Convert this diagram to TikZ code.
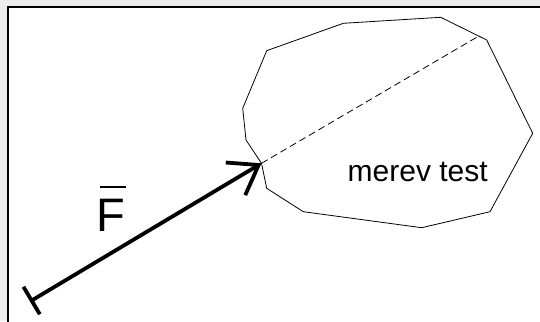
\documentclass[tikz,border=0pt]{standalone}
\usepackage{fontspec}
\setmainfont{Liberation Sans}
\usetikzlibrary{arrows.meta}
\begin{document}
\begin{tikzpicture}[x=1pt,y=-1pt,
  body/.style={draw=black,line width=0.8pt,line join=round},
  axisline/.style={draw=black,line width=0.8pt,dash pattern=on 7pt off 4pt},
  force/.style={draw=black,line width=3.8pt,
    {Bar[width=32pt,line width=3.8pt]}-{Straight Barb[length=27pt,width=38pt,line width=3.8pt]}},
  lbl/.style={inner sep=0pt,anchor=base west}]
\useasboundingbox (0,0) rectangle (540,321);
\fill[gray!15] (0,0) rectangle (540,321);
\fill[white] (8,7.5) rectangle (541,322);
\draw[line width=2pt] (8,322) -- (8,7.5) -- (541,7.5);
% body outline
\coordinate (p1) at (266.7,50.7);
\coordinate (p2) at (343.3,23.3);
\coordinate (p3) at (440.7,17.3);
\coordinate (p4) at (486.7,40);
\coordinate (p5) at (532.7,133.3);
\coordinate (p6) at (490,211.7);
\coordinate (p7) at (421.7,227.7);
\coordinate (p8) at (303.3,211.7);
\coordinate (p9) at (266.7,188.3);
\coordinate (tip) at (261.5,163.3);
\coordinate (p11) at (246,140);
\coordinate (p12) at (242.7,108.3);
\coordinate (far) at (478,36.5);
\coordinate (tail) at (30,301.5);
\draw[body] (p1) -- (p2) -- (p3) -- (p4) -- (p5) -- (p6) -- (p7) -- (p8) -- (p9) -- (tip) -- (p11) -- (p12) -- cycle;
\draw[axisline] (tip) -- (far);
\draw[force] (tail) -- (tip);
\node[lbl,font=\fontsize{47}{47}\selectfont] (F) at (96.5,231.7) {F};
\draw[line width=2pt] (100,186.5) -- (126,186.5);
\node[lbl,font=\fontsize{30}{30}\selectfont] (test) at (347.5,181.7) {merev test};
\end{tikzpicture}
\end{document}
